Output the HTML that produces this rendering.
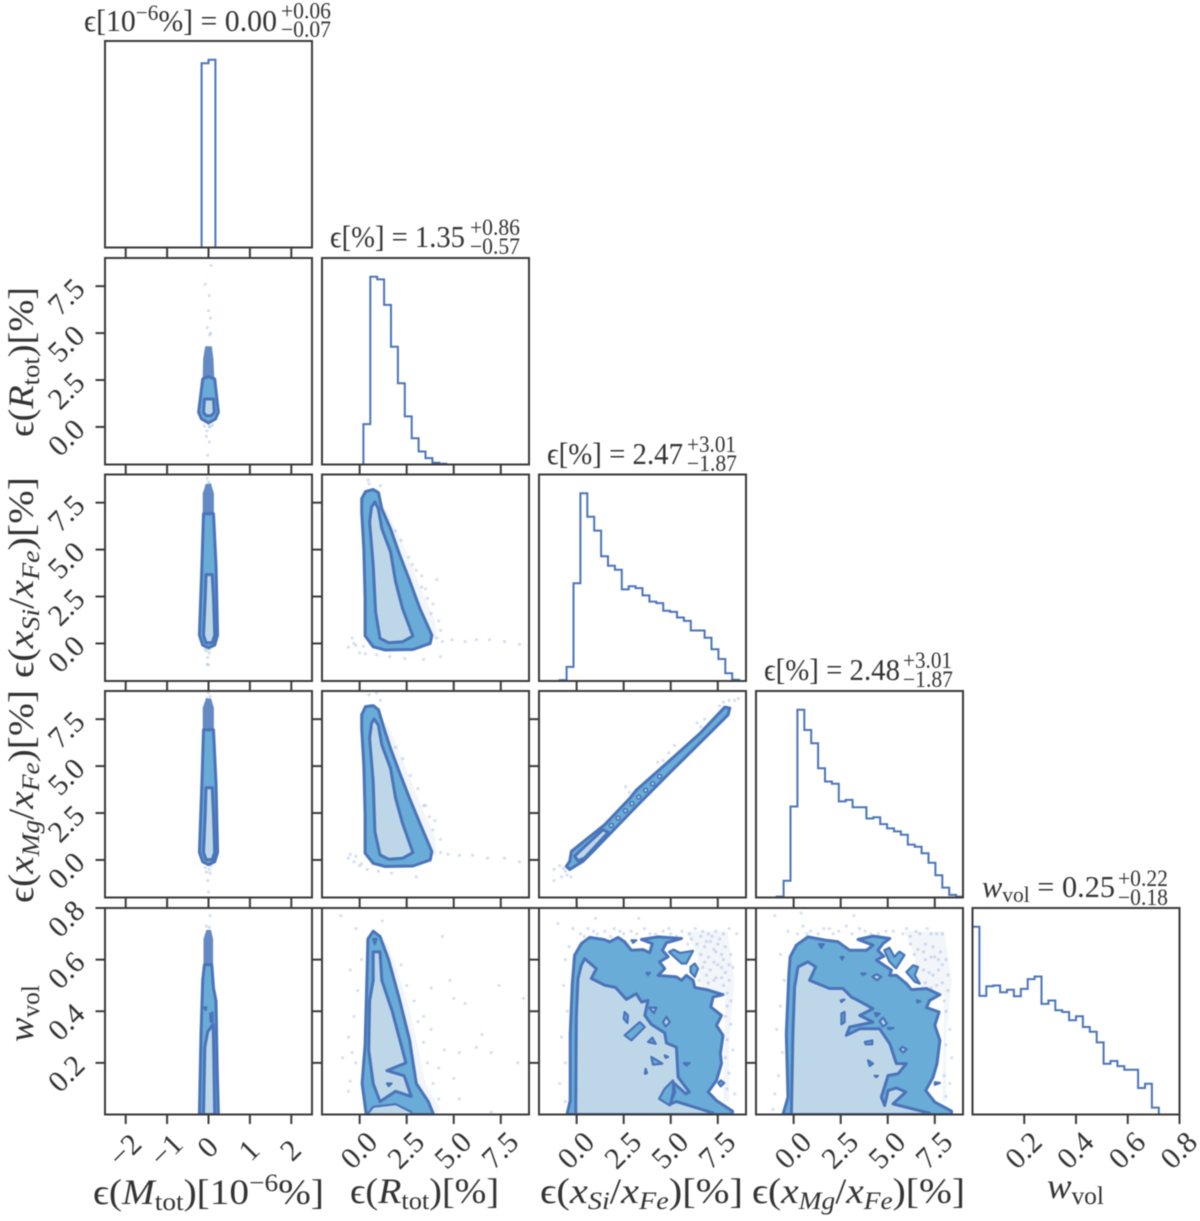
<!DOCTYPE html>
<html lang="en">
<head>
<meta charset="utf-8">
<title>Corner plot</title>
<style>
html,body{margin:0;padding:0;background:#fff;width:1200px;height:1221px;overflow:hidden}
svg{display:block;filter:blur(0.45px)}
text{font-family:"Liberation Serif","DejaVu Serif",serif;fill:#333}
.i{font-style:italic}
</style>
</head>
<body>
<svg id="corner" xmlns="http://www.w3.org/2000/svg" width="1200" height="1221" viewBox="0 0 1200 1221">
<rect width="1200" height="1221" fill="#fff"/>
<g id="plots"></g>

<g>
<g>
<text x="84" y="31" font-size="31" lengthAdjust="spacingAndGlyphs" textLength="193">ϵ[10<tspan dy="-11" font-size="22">−6</tspan><tspan dy="11">%] = 0.00</tspan></text>
<text x="281" y="18.5" font-size="23" lengthAdjust="spacingAndGlyphs" textLength="50">+0.06</text><text x="281" y="37" font-size="23" lengthAdjust="spacingAndGlyphs" textLength="50">−0.07</text>
</g>
<g>
<text x="330" y="247" font-size="31" lengthAdjust="spacingAndGlyphs" textLength="135">ϵ[%] = 1.35</text>
<text x="470" y="235" font-size="23" lengthAdjust="spacingAndGlyphs" textLength="50">+0.86</text><text x="470" y="254" font-size="23" lengthAdjust="spacingAndGlyphs" textLength="50">−0.57</text>
</g>
<g>
<text x="547" y="464" font-size="31" lengthAdjust="spacingAndGlyphs" textLength="136">ϵ[%] = 2.47</text>
<text x="687" y="452" font-size="23" lengthAdjust="spacingAndGlyphs" textLength="49">+3.01</text><text x="687" y="471" font-size="23" lengthAdjust="spacingAndGlyphs" textLength="50">−1.87</text>
</g>
<g>
<text x="764" y="680" font-size="31" lengthAdjust="spacingAndGlyphs" textLength="136">ϵ[%] = 2.48</text>
<text x="903" y="668" font-size="23" lengthAdjust="spacingAndGlyphs" textLength="49">+3.01</text><text x="903" y="687" font-size="23" lengthAdjust="spacingAndGlyphs" textLength="50">−1.87</text>
</g>
<g>
<text x="982" y="897" font-size="31" lengthAdjust="spacingAndGlyphs" textLength="133"><tspan class="i">w</tspan><tspan dy="5" font-size="22">vol</tspan><tspan dy="-5"> = 0.25</tspan></text>
<text x="1118" y="886" font-size="23" lengthAdjust="spacingAndGlyphs" textLength="50">+0.22</text><text x="1118" y="905" font-size="23" lengthAdjust="spacingAndGlyphs" textLength="50">−0.18</text>
</g>
</g>

<g>
<text x="93" y="1204" font-size="36" lengthAdjust="spacingAndGlyphs" textLength="231">ϵ(<tspan class="i">M</tspan><tspan dy="6" font-size="25">tot</tspan><tspan dy="-6">)[10</tspan><tspan dy="-13" font-size="25">−6</tspan><tspan dy="13">%]</tspan></text>
<text x="350" y="1203" font-size="36" lengthAdjust="spacingAndGlyphs" textLength="149">ϵ(<tspan class="i">R</tspan><tspan dy="6" font-size="25">tot</tspan><tspan dy="-6">)[%]</tspan></text>
<text x="540" y="1203" font-size="36" lengthAdjust="spacingAndGlyphs" textLength="203">ϵ(<tspan class="i">x</tspan><tspan class="i" dy="6" font-size="25">Si</tspan><tspan dy="-6">/</tspan><tspan class="i">x</tspan><tspan class="i" dy="6" font-size="25">Fe</tspan><tspan dy="-6">)[%]</tspan></text>
<text x="752" y="1203" font-size="36" lengthAdjust="spacingAndGlyphs" textLength="213">ϵ(<tspan class="i">x</tspan><tspan class="i" dy="6" font-size="25">Mg</tspan><tspan dy="-6">/</tspan><tspan class="i">x</tspan><tspan class="i" dy="6" font-size="25">Fe</tspan><tspan dy="-6">)[%]</tspan></text>
<text x="1047" y="1198" font-size="36" lengthAdjust="spacingAndGlyphs" textLength="57"><tspan class="i">w</tspan><tspan dy="6" font-size="25">vol</tspan></text>
</g>

<g>
<text transform="translate(33,437) rotate(-90)" font-size="36" lengthAdjust="spacingAndGlyphs" textLength="150">ϵ(<tspan class="i">R</tspan><tspan dy="6" font-size="25">tot</tspan><tspan dy="-6">)[%]</tspan></text>
<text transform="translate(33,678) rotate(-90)" font-size="36" lengthAdjust="spacingAndGlyphs" textLength="201">ϵ(<tspan class="i">x</tspan><tspan class="i" dy="6" font-size="25">Si</tspan><tspan dy="-6">/</tspan><tspan class="i">x</tspan><tspan class="i" dy="6" font-size="25">Fe</tspan><tspan dy="-6">)[%]</tspan></text>
<text transform="translate(33,903) rotate(-90)" font-size="36" lengthAdjust="spacingAndGlyphs" textLength="213">ϵ(<tspan class="i">x</tspan><tspan class="i" dy="6" font-size="25">Mg</tspan><tspan dy="-6">/</tspan><tspan class="i">x</tspan><tspan class="i" dy="6" font-size="25">Fe</tspan><tspan dy="-6">)[%]</tspan></text>
<text transform="translate(33,1042) rotate(-90)" font-size="36" lengthAdjust="spacingAndGlyphs" textLength="57"><tspan class="i">w</tspan><tspan dy="6" font-size="25">vol</tspan></text>
</g>
</svg>

<script>
// ---- Axis data ----
const axisRanges = [[-2.5,2.5],[-2,9],[-2,9],[-2,9],[0,0.8]];
const ticksMass = [-2,-1,0,1,2];
const labelsMass = ['−2','−1','0','1','2'];
const ticksPct = [0,2.5,5,7.5];
const labelsPct = ['0.0','2.5','5.0','7.5'];
const ticksW = [0.2,0.4,0.6,0.8];
const labelsW = ['0.2','0.4','0.6','0.8'];
const axisTicks = [ticksMass,ticksPct,ticksPct,ticksPct,ticksW];
const axisLabels = [labelsMass,labelsPct,labelsPct,labelsPct,labelsW];
const axisNames = ['mass','radius','si-fe','mg-fe','wvol'];

// ---- Histograms, 30 bins, percent of the peak bin ----
const histMass = [0,0,0,0,0,0,0,0,0,0,0,0,0,0,98.2,100,0,0,0,0,0,0,0,0,0,0,0,0,0,0];
const histRadius = [0,0,0,0,0,0,21.5,100,98.6,85,62.7,43.3,25.6,14,6.9,3.4,0.9,0.4,0,0,0,0,0,0,0,0,0,0,0,0];
const histSi = [0,0,0,0.5,7.5,52.1,100,87.5,80.1,66.5,61.4,59.3,48.8,50.5,49.5,45.6,42.3,41.5,37.4,36.8,33.8,32,26.9,26.9,23,16.9,11.7,4.1,0.7,0];
const histMg = [0,0,0,0.5,8.9,48.5,100,89.2,82.2,68.9,61.8,60.6,51.2,52,48.1,48.1,42.1,42.8,39.1,36.8,35.2,33.4,28.2,27,23.6,18.5,11.9,5.3,1.4,0.5];
const histW = [100,63.2,68.3,68.7,65.1,66.5,63,66.9,72.1,73.5,58.9,60.7,55.5,54.6,50.2,52.3,46.6,44.1,38.4,27,28.5,25.8,23.8,23.8,14.1,16.4,3.7,0,0,0];
const histograms = [histMass,histRadius,histSi,histMg,histW];

// ---- Contours in data units [x,y] ----
const massRadiusOuter = [[-.24,.78],[-.14,2.56],[0,2.68],[.15,2.56],[.24,.78],[.17,.43],[0,.21],[-.17,.43]];
const massRadiusInner = [[-.12,.78],[-.1,1.49],[.12,1.49],[.14,.78],[.07,.6],[-.06,.6]];
const massRadiusDense = [[-.14,2.6],[-.13,3.6],[-.08,4.3],[.08,4.3],[.12,3.6],[.14,2.6]];
const massRadiusPoints = [[.06,8.6],[-.08,7.6],[.02,7],[0,6.2],[.05,5.8],[-.03,5.3],[.05,5],[.03,4.9],[-.05,-.5],[.02,-.8],[-.02,-1.5],[.04,0],[-.04,-.2],[.01,.05],[-.1,.05],[.1,.1]];

const massSiOuter = [[-.22,.44],[-.16,4.17],[-.12,6.91],[.12,6.91],[.18,4.17],[.22,.44],[.15,-.09],[0,-.23],[-.14,-.09]];
const massSiInner = [[-.12,.44],[-.08,2.39],[-.06,3.67],[.09,3.67],[.12,2.39],[.15,.44],[.09,.04],[-.06,.04]];
const massSiDense = [[-.14,6.9],[-.14,8],[-.06,8.5],[.06,8.5],[.13,8],[.13,6.9]];
const massSiPoints = [[-.03,8.8],[0,8.6],[.04,8.5],[-.06,8.4],[-.05,-.4],[.02,-.5],[-.02,-.75],[.03,-.3],[-.08,-.3],[0,-1.15],[-.03,-1.1]];

const massMgOuter = [[-.22,.4],[-.16,4.1],[-.12,6.93],[.12,6.93],[.18,4.1],[.22,.4],[.15,-.1],[0,-.25],[-.14,-.1]];
const massMgInner = [[-.12,.4],[-.08,2.4],[-.06,3.85],[.09,3.85],[.12,2.4],[.15,.4],[.09,.02],[-.06,.02]];
const massMgDense = [[-.14,6.9],[-.14,8.1],[-.06,8.6],[.06,8.6],[.13,8.1],[.13,6.9]];
const massMgPoints = [[0,8.9],[.04,8.7],[-.04,8.6],[-.08,-.4],[.02,-.5],[-.05,-.65],[.04,-.7],[-.02,-1.1],[0,-1.7],[.06,-.3]];

const massWOuter = [[-.22,0],[-.18,.31],[-.14,.52],[-.1,.58],[.08,.58],[.12,.49],[.18,.44],[.21,.18],[.24,0]];
const massWInner = [[-.12,0],[-.09,.26],[-.02,.32],[.11,.35],[.12,.29],[.15,0]];
const massWDense = [[-.12,.58],[-.12,.68],[-.05,.715],[.06,.715],[.11,.68],[.11,.58]];
const massWPoints = [[.04,.77],[-.05,.73],[.02,.725]];
const massWIslands = [[[-.1,.415],[-.05,.415],[-.07,.405]],[[.04,.39],[.1,.395],[.1,.36],[.05,.36]]];

const radiusSiOuter = [[.11,7.71],[.31,8.09],[.72,8.2],[1,8.03],[1.18,7.18],[1.64,6.12],[2.1,4.79],[2.65,3.37],[3.2,1.86],[3.84,.44],[3.75,0],[2.83,-.32],[1.36,-.35],[.72,-.18],[.29,.41],[.29,2.39],[.22,5.05],[.11,7]];
const radiusSiInner = [[.53,6.47],[.63,7.27],[.81,7.54],[.99,7.18],[1.18,6.12],[1.64,4.88],[1.91,3.28],[2.28,1.86],[2.83,.39],[2.28,.09],[1.54,.04],[1.08,.27],[.85,1.68],[.72,4.17]];
const radiusSiHaze = [[1.1,7.5],[1.5,7],[2.3,5.3],[3.1,3.3],[4,1.2],[4.1,.2],[3.8,.3],[3.2,1.86],[2.65,3.37],[2.1,4.79],[1.6,6.1]];
const radiusSiPoints = [[.45,8.7],[.5,8.5],[1.1,8.4],[4.1,.3],[4.4,.1],[4.9,.2],[5.6,.1],[6.2,.2],[6.9,.2],[7.7,.1],[8.5,-.05],[-.4,.3],[-.6,-.2],[-.2,-.1],[0,-.5],[.3,-.55],[.9,-.6],[1.6,-.7],[2.4,-.8],[3.4,-.85],[4.3,-.7],[3.9,2.1],[4.1,3.4],[3.5,2.9],[-.3,.0],[.2,-.15],[1.9,6],[2.2,5.5],[2.6,4.6],[3,3.9],[3.3,3],[3.6,2.4],[3.8,1.6],[4.2,1.2],[4.3,.7],[2.8,4.2],[3.3,3.6]];

const radiusMgOuter = [[.11,7.73],[.31,8.17],[.72,8.22],[1,8],[1.27,7.1],[1.64,5.95],[2.1,4.7],[2.65,3.29],[3.2,1.95],[3.84,.44],[3.75,0],[2.83,-.32],[1.36,-.35],[.72,-.18],[.29,.36],[.29,2.4],[.22,5.06],[.11,7]];
const radiusMgInner = [[.53,6.48],[.63,7.28],[.77,7.51],[.99,7.19],[1.18,6.13],[1.64,4.88],[1.91,3.29],[2.28,1.95],[2.83,.39],[2.28,.09],[1.54,.04],[1.08,.27],[.81,1.51],[.72,4.17]];
const radiusMgHaze = [[1.1,7.6],[1.6,7],[2.3,5.3],[3.1,3.3],[4,1.2],[4.1,.2],[3.8,.3],[3.2,1.95],[2.65,3.29],[2.1,4.7],[1.64,5.95]];
const radiusMgPoints = [[.5,8.8],[.9,8.9],[1.1,8.5],[4.3,.4],[4.7,.3],[5.3,.25],[6,.25],[6.8,.1],[7.7,.1],[8.5,-.1],[-.5,.3],[-.6,.1],[-.3,-.1],[0,-.3],[.4,-.5],[1,-.6],[1.7,-.7],[3,-.9],[4,2.1],[3.5,2.9],[-.2,.2],[.1,-.2],[1.9,6],[2.3,5.4],[2.7,4.5],[3.1,3.8],[3.4,2.9],[3.7,2.3],[3.9,1.6],[4.3,1.1]];

const radiusWOuter = [[.13,.12],[.29,.27],[.4,.57],[.44,.68],[.72,.71],[1.08,.69],[1.54,.6],[2.1,.45],[2.65,.29],[3.01,.12],[3.65,.05],[3.93,0],[.35,0]];
const radiusWInner = [[.72,.63],[1.08,.63],[1.18,.52],[1.73,.4],[2.28,.25],[2.46,.2],[1.45,.17],[2.37,.15],[2.74,.07],[1.91,.09],[1.08,.05],[.72,.12],[.48,.25],[.53,.44],[.72,.52]];
const radiusWBottom = [[.4,0],[.72,.03],[1.91,.04],[2.74,.01],[2.74,0]];
const radiusWHaze = [[1.2,.7],[1.9,.58],[2.6,.42],[3.1,.26],[3.5,.12],[4.3,.02],[3.9,0],[3.65,.05],[3,.12],[2.65,.29],[2.1,.45],[1.54,.6]];
const radiusWPoints = [[-1,.77],[1.2,.75],[-.2,.72],[.1,.6],[-.5,.56],[-.1,.48],[-.3,.38],[-.6,.3],[-.9,.22],[-.4,.24],[-.5,.13],[-.2,.2],[-.6,.09],[4.4,.69],[4.8,.52],[3.8,.49],[5,.45],[5.6,.43],[7.4,.5],[8.7,.45],[6.5,.31],[5.3,.24],[6.2,.26],[7,.24],[8.4,.2],[5,.14],[5.3,.06],[7,.01],[3.8,.33],[4.2,.18],[4.5,.25],[3.4,.38],[2.2,.58],[2.5,.5],[2.9,.44],[3.1,.36],[3.4,.28],[3.6,.2],[3.9,.12],[4.2,.06]];
const radiusWIslands = [[[.72,.68],[.9,.68],[.8,.66]],[[1.45,.12],[1.7,.12],[1.55,.11]]];

const siMgOuter = [[-.55,-.34],[-.37,-.07],[-.28,.46],[1.49,1.88],[2.82,3.28],[3.17,3.72],[4.77,5.14],[6.54,6.73],[7.87,8.14],[8.14,8.09],[8.05,7.73],[7.07,6.75],[4.95,4.65],[3.17,2.85],[1.76,1.38],[.87,.46],[.34,-.07],[-.37,-.51]];
const siMgInner = [[-.11,.2],[.16,.46],[1.4,1.61],[1.67,1.47],[.43,.11],[.07,-.04]];
const siMgBeads = [[1.84,1.84],[2.2,2.23],[2.59,2.62],[2.94,3],[3.3,3.35],[3.67,3.71],[4.04,4.06],[4.41,4.45]];
const siMgPoints = [[8.4,8.5],[8.1,8.5],[7.8,8.4],[8.6,8.6],[7.6,8.2],[6.4,7.3],[6.8,7.5],[6.6,7.1],[4.9,5.7],[5.2,6.1],[4.3,5.2],[4.6,5.3],[2.6,3.9],[2.8,3.6],[3,3.5],[-.6,-.6],[-.8,-.9],[-1.2,-.5],[-.9,-.3],[-1.2,-1.1],[-.5,-.8],[-.3,-.9],[-.7,-.45]];

const siWOuter = [[-.51,0],[-.34,.054],[-.34,.313],[-.23,.507],[-.11,.617],[.25,.662],[.69,.686],[1.44,.678],[1.76,.669],[2.2,.686],[2.55,.669],[2.91,.636],[3.53,.639],[3.88,.627],[4.02,.662],[3.44,.678],[4.33,.688],[5.57,.682],[4.77,.665],[4.56,.636],[4.86,.611],[4.41,.591],[4.68,.565],[4.33,.539],[5.3,.533],[5.57,.52],[5.83,.539],[6.19,.52],[6.28,.492],[6.9,.484],[7.78,.464],[7.25,.455],[7.13,.417],[7.7,.384],[7.43,.345],[7.78,.307],[7.64,.235],[7.7,.197],[7.43,.132],[6.99,.087],[7.43,.054],[8.28,.013],[8.28,0]];
const siWInner = [[-.05,0],[-.02,.378],[.07,.527],[.25,.578],[.43,.604],[1.05,.565],[.78,.527],[1.49,.501],[2.07,.492],[2.64,.446],[3.17,.468],[3.44,.436],[3.79,.442],[3.62,.384],[3.97,.349],[4.68,.316],[4.77,.277],[5.3,.261],[5.39,.145],[5.98,.087],[5.8,.08],[5.12,.125],[5.21,.087],[4.95,.04],[5.3,.05],[7.25,.006],[7.2,0]];
const siWMedium = [[[4.38,.061],[4.68,.1],[5.12,.132],[5.12,.087],[4.95,.035]],[[2.55,.397],[2.73,.384],[2.7,.354],[2.5,.371]],[[2.55,.307],[3.35,.358],[3.62,.339],[2.91,.287]],[[3.79,.281],[4.02,.298],[4.2,.274]],[[3.97,.223],[4.56,.197],[4.06,.193]],[[3.67,.177],[3.74,.16],[3.63,.158]],[[4.68,.229],[4.86,.223],[4.73,.22]]];
const siWLight = [[[3.85,.414],[4.24,.414],[4.1,.393]],[[4.77,.378],[4.95,.358],[4.73,.341],[4.59,.358]],[[5.69,.199],[6.01,.199],[5.83,.19]],[[3.71,.549],[3.9,.549],[3.8,.54]]];
const siWFloat = [[[4.91,.63],[5.16,.639],[5.48,.626],[6.19,.634],[5.83,.585],[5.57,.585]],[[6.05,.572],[6.28,.585],[6.45,.565],[6.28,.533],[6.05,.552]],[[2.91,.675],[3.17,.675],[3,.665]],[[7.66,.132],[7.84,.122],[7.66,.109],[7.52,.122]]];
const siWHaze = [[5.8,.71],[8,.71],[8.4,.52],[8.1,.3],[8.1,.05],[7.8,.05],[7.9,.46],[6.6,.5],[6.4,.62]];
const siWPoints = [[.2,.7],[.6,.72],[1.1,.7],[1.5,.71],[2,.72],[2.5,.7],[2.9,.71],[3.2,.7],[3.6,.72],[4.2,.7],[4.6,.71],[5,.7],[5.6,.71],[6,.7],[6.3,.72],[6.6,.69],[7,.7],[7.4,.71],[7.8,.7],[8.1,.72],[5.9,.66],[6.4,.66],[6.8,.65],[7.1,.67],[7.5,.66],[7.9,.65],[6.6,.62],[7,.61],[7.4,.63],[7.8,.6],[8.2,.62],[6.7,.57],[7.1,.56],[7.5,.58],[7.9,.55],[8.3,.57],[6.5,.52],[7,.51],[7.4,.53],[7.8,.5],[8.1,.52],[8,.42],[7.9,.38],[8.2,.35],[8,.29],[8.3,.25],[7.9,.22],[8.1,.16],[8,.1],[8.4,.08],[-.6,.6],[-.7,.5],[-.5,.4],[-.8,.3],[-.6,.2],[-.9,.12],[-.6,.05],[-.4,.65],[-.2,.72],[1,.76],[-1,.74],[3.3,.76],[8.5,.7],[.4,.69],[.9,.71],[1.8,.69],[2.3,.71],[3.9,.7],[4.9,.72],[5.3,.69],[6.7,.71],[7.2,.69],[7.6,.68],[6.1,.68],[6.9,.67],[7.3,.64],[7.7,.62],[6.8,.59],[7.3,.59],[7.7,.57],[8.1,.58],[6.9,.54],[7.3,.52],[7.7,.53],[8,.47],[8.2,.44]];

const mgWOuter = [[-.57,0],[-.3,.067],[-.39,.313],[-.25,.546],[-.18,.611],[.14,.656],[.76,.688],[1.74,.675],[2.36,.669],[2.98,.636],[3.87,.636],[4.22,.656],[3.42,.678],[4.22,.691],[5.11,.682],[4.75,.662],[4.48,.636],[4.79,.613],[4.4,.598],[5.2,.559],[5.1,.539],[5.46,.539],[5.99,.507],[6.26,.484],[7.06,.488],[7.77,.464],[7.23,.442],[7.06,.414],[7.73,.397],[7.5,.345],[7.77,.287],[7.62,.197],[7.41,.145],[7.02,.093],[7.5,.048],[8.39,.013],[8.39,0]];
const mgWInner = [[-.12,0],[-.04,.313],[.05,.494],[.23,.572],[.76,.591],[1.17,.572],[.85,.52],[1.91,.488],[2.62,.488],[3.07,.455],[3.42,.442],[4.22,.41],[3.51,.384],[4.22,.358],[2.98,.339],[2.8,.307],[3.51,.332],[4.57,.332],[5.11,.274],[5.46,.197],[5.99,.197],[5.55,.158],[5.02,.151],[4.66,.067],[4.84,.035],[5.02,.093],[5.46,.103],[5.96,.087],[5.28,.041],[7.23,.005],[7.2,0]];
const mgWMedium = [[[2.54,.391],[2.71,.397],[2.71,.358],[2.54,.349]],[[2.5,.442],[2.7,.445],[2.54,.436]],[[3.78,.281],[4.18,.287],[4.18,.272],[3.83,.272]],[[3.95,.21],[4.22,.197],[4.04,.188]],[[4.3,.15],[4.48,.15],[4.39,.145]]];
const mgWLight = [[[4.4,.543],[4.66,.534],[4.43,.52],[4.18,.534]],[[4.75,.375],[4.96,.352],[4.75,.341],[4.57,.362]],[[5.78,.262],[6.01,.253],[5.82,.24],[5.64,.253]]];
const mgWDots = [[[4.31,.393],[4.57,.391],[4.4,.38]],[[3.6,.546],[3.83,.546],[3.69,.541]],[[6.55,.442],[6.73,.439],[6.59,.434]],[[1.35,.66],[1.6,.66],[1.47,.645]],[[2.5,.61],[2.65,.61],[2.58,.6]],[[5.0,.335],[5.3,.335],[5.1,.33]]];
const mgWFloat = [[[4.82,.636],[5.09,.646],[5.35,.611],[5.62,.631],[5.89,.618],[5.44,.566],[5.09,.592]],[[5.99,.552],[6.35,.578],[6.61,.572],[6.44,.539],[6.7,.507],[6.44,.514]],[[7.5,.125],[7.77,.122],[7.5,.115]]];
const mgWHaze = [[5.9,.71],[8,.71],[8.4,.52],[8.1,.3],[8.1,.05],[7.9,.05],[8,.46],[6.6,.5],[6.4,.62]];
const mgWPoints = [[-.3,.71],[.2,.7],[.5,.73],[.9,.71],[1.3,.7],[1.9,.72],[2.4,.71],[2.8,.73],[3.1,.7],[3.8,.71],[4.5,.7],[5.3,.71],[5.8,.7],[6.2,.69],[6.7,.7],[7.1,.72],[7.6,.7],[7.9,.7],[6.2,.66],[6.6,.64],[7,.66],[7.4,.65],[7.8,.63],[7,.6],[7.5,.61],[8.1,.6],[7.2,.55],[7.7,.56],[8.2,.54],[7,.51],[7.6,.5],[8.2,.48],[8.1,.4],[8.3,.33],[8.1,.27],[8.4,.22],[8,.15],[8.3,.12],[8.1,.07],[-.7,.62],[-.5,.52],[-.7,.42],[-.9,.33],[-.6,.24],[-.8,.15],[-1,.08],[-1.1,.02],[-1,.77],[.4,.78],[3.2,.77],[.7,.7],[1.6,.72],[2.1,.7],[3.5,.72],[4.1,.7],[4.9,.71],[6,.72],[6.5,.71],[7.3,.7],[6.4,.62],[6.9,.63],[7.3,.61],[7.7,.6],[6.9,.56],[7.4,.54],[7.9,.58],[7.3,.49],[7.9,.51],[8,.44]];

const panels2D = [
 {col:0,row:1,name:'mass-radius',outer:massRadiusOuter,inner:massRadiusInner,dense:massRadiusDense,points:massRadiusPoints},
 {col:0,row:2,name:'mass-si',outer:massSiOuter,inner:massSiInner,dense:massSiDense,points:massSiPoints},
 {col:1,row:2,name:'radius-si',outer:radiusSiOuter,inner:radiusSiInner,haze:radiusSiHaze,points:radiusSiPoints},
 {col:0,row:3,name:'mass-mg',outer:massMgOuter,inner:massMgInner,dense:massMgDense,points:massMgPoints},
 {col:1,row:3,name:'radius-mg',outer:radiusMgOuter,inner:radiusMgInner,haze:radiusMgHaze,points:radiusMgPoints},
 {col:2,row:3,name:'si-mg',outer:siMgOuter,inner:siMgInner,points:siMgPoints,beads:siMgBeads},
 {col:0,row:4,name:'mass-wvol',outer:massWOuter,inner:massWInner,dense:massWDense,points:massWPoints,medium:massWIslands},
 {col:1,row:4,name:'radius-wvol',outer:radiusWOuter,inner:radiusWInner,extraLight:[radiusWBottom],haze:radiusWHaze,points:radiusWPoints,medium:radiusWIslands},
 {col:2,row:4,name:'si-wvol',outer:siWOuter,inner:siWInner,haze:siWHaze,points:siWPoints,medium:siWMedium,light:siWLight,float:siWFloat},
 {col:3,row:4,name:'mg-wvol',outer:mgWOuter,inner:mgWInner,haze:mgWHaze,points:mgWPoints,medium:mgWMedium.concat(mgWDots),light:mgWLight,float:mgWFloat}
];

// ---- Layout ----
const colLeft = [105,322,539,756,972.5];
const rowTop = [41,258,474.5,691,908];
const boxW = 207, boxH = 206.5;
const LINE = '#4a74b9', MED = '#69acd7', LIGHT = '#bed7e8', FRAME = '#3a3a3a';
const NS = 'http://www.w3.org/2000/svg';
const root = document.getElementById('plots');

function sx(col,v){const r=axisRanges[col];return colLeft[col]+(v-r[0])/(r[1]-r[0])*boxW;}
function sy(row,v){const r=axisRanges[row];return rowTop[row]+boxH-(v-r[0])/(r[1]-r[0])*boxH;}
function make(tag,attrs,parent){
  const el=document.createElementNS(NS,tag);
  for(const k in attrs)el.setAttribute(k,attrs[k]);
  parent.appendChild(el);
  return el;
}
function polyPath(col,row,pts){
  return pts.map((p,i)=>(i?'L':'M')+sx(col,p[0]).toFixed(1)+' '+sy(row,p[1]).toFixed(1)).join('')+'Z';
}

// Draw 2D panels
panels2D.forEach(p=>{
  const g=make('g',{},root);
  
  
  const clipId='clip-'+p.name;
  const cp=make('clipPath',{id:clipId},g);
  make('rect',{x:colLeft[p.col],y:rowTop[p.row],width:boxW,height:boxH},cp);
  const body=make('g',{'clip-path':'url(#'+clipId+')'},g);
  if(p.haze){
    const hz=make('path',{d:polyPath(p.col,p.row,p.haze),fill:LINE,'fill-opacity':0.07},body);
    
    
  }
  p.points.forEach(pt=>{
    const c=make('circle',{cx:sx(p.col,pt[0]),cy:sy(p.row,pt[1]),r:1.6,fill:LINE,'fill-opacity':0.22},body);
    
    
  });
  if(p.dense){
    const d=make('path',{d:polyPath(p.col,p.row,p.dense),fill:LINE,'fill-opacity':0.85},body);
    
    
  }
  const outer=make('path',{d:polyPath(p.col,p.row,p.outer),fill:MED,stroke:LINE,'stroke-width':3,'stroke-linejoin':'round'},body);
  
  
  const inner=make('path',{d:polyPath(p.col,p.row,p.inner),fill:LIGHT,stroke:LINE,'stroke-width':3,'stroke-linejoin':'round'},body);
  
  
  (p.extraLight||[]).concat(p.light||[]).forEach(s=>{
    const e=make('path',{d:polyPath(p.col,p.row,s),fill:LIGHT,stroke:LINE,'stroke-width':2.2,'stroke-linejoin':'round'},body);
    
    
  });
  (p.medium||[]).concat(p.float||[]).forEach(s=>{
    const e=make('path',{d:polyPath(p.col,p.row,s),fill:MED,stroke:LINE,'stroke-width':2.2,'stroke-linejoin':'round'},body);
    
    
  });
  (p.beads||[]).forEach(b=>{
    const e=make('circle',{cx:sx(p.col,b[0]),cy:sy(p.row,b[1]),r:2,fill:LIGHT,stroke:LINE,'stroke-width':1.6},body);
    
    
  });
});

// Draw diagonal histograms
histograms.forEach((vals,i)=>{
  const g=make('g',{},root);
  
  
  const r=axisRanges[i], w=(r[1]-r[0])/vals.length;
  const bottom=rowTop[i]+boxH, peakH=boxH/1.1;
  const yv=v=>bottom-v/100*peakH;
  let first=vals.findIndex(v=>v>0), last=vals.length-1;
  while(vals[last]===0)last--;
  let d='M'+sx(i,r[0]+first*w).toFixed(1)+' '+bottom;
  for(let k=first;k<=last;k++){
    d+='L'+sx(i,r[0]+k*w).toFixed(1)+' '+yv(vals[k]).toFixed(1);
    d+='L'+sx(i,r[0]+(k+1)*w).toFixed(1)+' '+yv(vals[k]).toFixed(1);
  }
  d+='L'+sx(i,r[0]+(last+1)*w).toFixed(1)+' '+bottom;
  const path=make('path',{d:d,fill:'none',stroke:LINE,'stroke-width':2,'stroke-linejoin':'miter'},g);
  
  
});

// Frames and ticks
for(let row=0;row<5;row++){
  for(let col=0;col<=row;col++){
    const g=make('g',{},root);
    
    
    const frame=make('rect',{x:colLeft[col],y:rowTop[row],width:boxW,height:boxH,fill:'none',stroke:FRAME,'stroke-width':2},g);
    
    
    const by=rowTop[row]+boxH;
    axisTicks[col].forEach((t,k)=>{
      const x=sx(col,t);
      const tick=make('line',{x1:x,x2:x,y1:by,y2:by+9.5,stroke:FRAME,'stroke-width':2},g);
      
      
      if(row===4){
        const cy=t===0&&col===0?1147:1150;
        const cx=x-1;
        const lb=make('text',{x:cx,y:cy,dy:'0.34em','font-size':30,'text-anchor':'middle',transform:'rotate(-45 '+cx+' '+cy+')'},g);
        lb.textContent=axisLabels[col][k];
        
        
      }
    });
    if(col<row){
      axisTicks[row].forEach((t,k)=>{
        const y=sy(row,t);
        const tick=make('line',{x1:colLeft[col]-9.5,x2:colLeft[col],y1:y,y2:y,stroke:FRAME,'stroke-width':2},g);
        
        
        if(col===0){
          const cx=66, cy=y+10.5;
          const lb=make('text',{x:cx,y:cy,dy:'0.34em','font-size':30,'text-anchor':'middle',transform:'rotate(-45 '+cx+' '+cy+')'},g);
          lb.textContent=axisLabels[row][k];
          
          
        }
      });
    }
  }
}
</script>
</body>
</html>
